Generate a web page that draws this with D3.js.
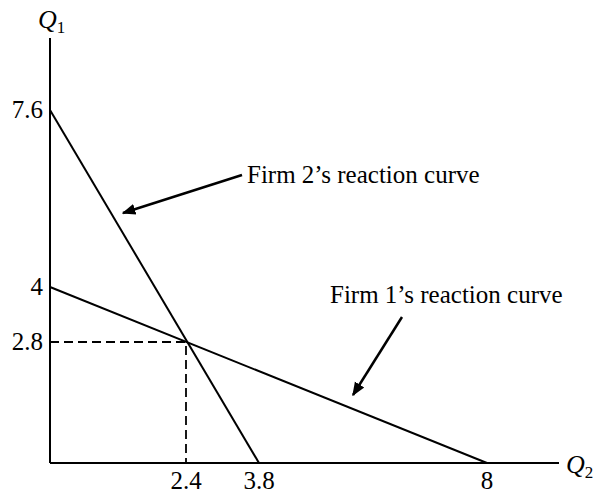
<!DOCTYPE html>
<html>
<head>
<meta charset="utf-8">
<script src="https://cdn.jsdelivr.net/npm/d3@7"></script>
</head>
<body style="margin:0">
<script>
// Reaction curves: endpoints on the Q1 (vertical) and Q2 (horizontal) axes
var firm1Curve = [{ q2: 0, q1: 4 }, { q2: 8, q1: 0 }]
var firm2Curve = [{ q2: 0, q1: 7.6 }, { q2: 3.8, q1: 0 }]
var equilibrium = { q2: 2.4, q1: 2.8 }

var q1Ticks = [7.6, 4, 2.8]
var q2Ticks = [2.4, 3.8, 8]

var width = 594
var height = 493
var serif = "'Liberation Serif'"

var svg = d3.select('body').append('svg')
  .attr('width', width)
  .attr('height', height)

// the drawing isn't quite to scale, so use piecewise scales through the labelled points
var x = d3.scaleLinear().domain([0, 2.4, 3.8, 8, 9.3]).range([50, 186, 259, 487, 559])
var y = d3.scaleLinear().domain([0, 2.8, 4, 7.6, 9.2]).range([463, 342, 287, 110, 38])

svg.append('defs').append('marker')
  .attr('id', 'arrow')
  .attr('viewBox', '0 0 10 10')
  .attr('refX', 9)
  .attr('refY', 5)
  .attr('markerWidth', 5.5)
  .attr('markerHeight', 5.5)
  .attr('markerUnits', 'strokeWidth')
  .attr('orient', 'auto')
  .append('path')
  .attr('d', 'M0,1 L10,5 L0,9 Z')
  .attr('fill', '#000')

// axes
svg.append('line')
  .attr('x1', x(0)).attr('y1', y(0))
  .attr('x2', x(0)).attr('y2', y(9.2))
  .attr('stroke', '#000').attr('stroke-width', 2)
svg.append('line')
  .attr('x1', x(0)).attr('y1', y(0))
  .attr('x2', x(9.3)).attr('y2', y(0))
  .attr('stroke', '#000').attr('stroke-width', 2)

// dashed guides to the equilibrium
svg.append('path')
  .attr('d', d3.line()([[x(0), y(equilibrium.q1)], [x(equilibrium.q2), y(equilibrium.q1)], [x(equilibrium.q2), y(0)]]))
  .attr('fill', 'none')
  .attr('stroke', '#000')
  .attr('stroke-width', 1.8)
  .attr('stroke-dasharray', '9,5')

var line = d3.line().x(d => x(d.q2)).y(d => y(d.q1))

svg.selectAll('path.curve')
  .data([firm1Curve, firm2Curve])
  .join('path')
  .attr('class', 'curve')
  .attr('d', line)
  .attr('fill', 'none')
  .attr('stroke', '#000')
  .attr('stroke-width', 2)

// tick labels
svg.selectAll('text.q1tick')
  .data(q1Ticks)
  .join('text')
  .attr('class', 'q1tick')
  .attr('x', x(0) - 7)
  .attr('y', d => y(d))
  .attr('dy', '0.33em')
  .attr('text-anchor', 'end')
  .style('font-family', serif)
  .style('font-size', '25px')
  .text(d => d)

svg.selectAll('text.q2tick')
  .data(q2Ticks)
  .join('text')
  .attr('class', 'q2tick')
  .attr('x', d => x(d))
  .attr('y', y(0) + 26)
  .attr('text-anchor', 'middle')
  .style('font-family', serif)
  .style('font-size', '25px')
  .text(d => d)

// axis titles
var q1Title = svg.append('text')
  .attr('x', 38).attr('y', 28)
  .style('font-family', serif)
  .style('font-size', '26px')
q1Title.append('tspan').style('font-style', 'italic').text('Q')
q1Title.append('tspan').attr('dy', 5).style('font-size', '17px').text('1')

var q2Title = svg.append('text')
  .attr('x', 566).attr('y', 473)
  .style('font-family', serif)
  .style('font-size', '26px')
q2Title.append('tspan').style('font-style', 'italic').text('Q')
q2Title.append('tspan').attr('dy', 5).style('font-size', '17px').text('2')

// annotations
svg.append('text')
  .attr('x', 247).attr('y', 183)
  .style('font-family', serif)
  .style('font-size', '25px')
  .text('Firm 2’s reaction curve')
svg.append('line')
  .attr('x1', 242).attr('y1', 175)
  .attr('x2', 123).attr('y2', 213)
  .attr('stroke', '#000').attr('stroke-width', 2.5)
  .attr('marker-end', 'url(#arrow)')

svg.append('text')
  .attr('x', 330).attr('y', 303)
  .style('font-family', serif)
  .style('font-size', '25px')
  .text('Firm 1’s reaction curve')
svg.append('line')
  .attr('x1', 402).attr('y1', 317)
  .attr('x2', 353).attr('y2', 395)
  .attr('stroke', '#000').attr('stroke-width', 2.5)
  .attr('marker-end', 'url(#arrow)')
</script>
</body>
</html>
